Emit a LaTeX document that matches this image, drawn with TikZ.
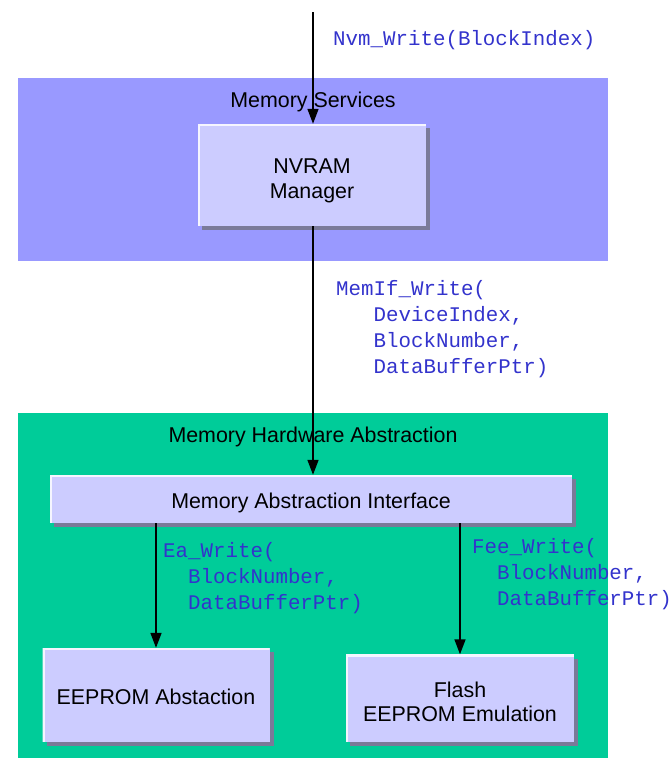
\documentclass[tikz,border=0pt]{standalone}
\usepackage{fontspec}
\setmainfont{Liberation Sans}
\setmonofont{Liberation Mono}
\usetikzlibrary{arrows.meta,positioning,shadows}
\definecolor{servblue}{HTML}{9999FF}
\definecolor{hwgreen}{HTML}{00CC99}
\definecolor{boxlilac}{HTML}{CCCCFF}
\definecolor{apiblue}{HTML}{3333CC}
\definecolor{shadowgray}{HTML}{7A7A99}

\begin{document}
\begin{tikzpicture}[
  x=1pt, y=-1pt,
  every node/.style={font=\fontsize{21.4}{24.5}\selectfont},
  layer/.style={fill=#1, draw=none},
  modbox/.style={fill=boxlilac, draw=none, align=center,
                 drop shadow={shadow xshift=4pt, shadow yshift=-4pt,
                              fill=shadowgray, opacity=1},
                 path picture={\draw[white!80!boxlilac, line width=4pt]
                   (path picture bounding box.south west)
                   |- (path picture bounding box.north east);}},
  api/.style={font=\ttfamily\fontsize{20.8}{26}\selectfont, text=apiblue,
              align=left, inner sep=0pt},
  arr/.style={-{Triangle[width=11pt,length=15pt]}, line width=1.6pt}
]
\useasboundingbox (0,0) rectangle (671,758);

%% layers
\fill[layer=servblue] (18,78) rectangle (608,261);
\fill[layer=hwgreen]  (18,413) rectangle (608,758);
\node (servlbl) at (313,102) {Memory Services};
\node (hwlbl)   at (313,437) {Memory Hardware Abstraction};

%% modules
\node[modbox, minimum width=228pt, minimum height=102pt] (nvram) at (312,175)
  {\raisebox{0pt}[26pt]{NVRAM}\\Manager};
\node[modbox, minimum width=522pt, minimum height=48pt]  (mai)   at (311,499)
  {\raisebox{0pt}[24pt]{Memory Abstraction Interface}};
\node[modbox, minimum width=227pt, minimum height=94pt]  (ea)    at (156,695)
  {\raisebox{0pt}[20pt]{EEPROM Abstaction}};
\node[modbox, minimum width=228pt, minimum height=87pt]  (fee)   at (460,698)
  {\raisebox{0pt}[23pt]{Flash}\\EEPROM Emulation};

%% calls
\coordinate (caller) at (313,12);
\draw[arr] (caller) -- (caller |- nvram.north);
\draw[arr] (nvram.south -| caller) -- (mai.north -| caller);
\draw[arr] (mai.south -| ea.north) -- (ea.north);
\draw[arr] (mai.south -| fee.north) -- (fee.north);

%% call labels
\node[api, anchor=north west] (nvmcall) at (333,30) {Nvm\_Write(BlockIndex)};
\node[api, anchor=north west] (memifcall) at (336,280)
  {MemIf\_Write(\\\phantom{xxx}DeviceIndex,\\\phantom{xxx}BlockNumber,\\\phantom{xxx}DataBufferPtr)};
\node[api, anchor=north west] (eacall) at (163,542)
  {Ea\_Write(\\\phantom{xx}BlockNumber,\\\phantom{xx}DataBufferPtr)};
\node[api, anchor=north west] (feecall) at (472,538)
  {Fee\_Write(\\\phantom{xx}BlockNumber,\\\phantom{xx}DataBufferPtr)};

\end{tikzpicture}
\end{document}
